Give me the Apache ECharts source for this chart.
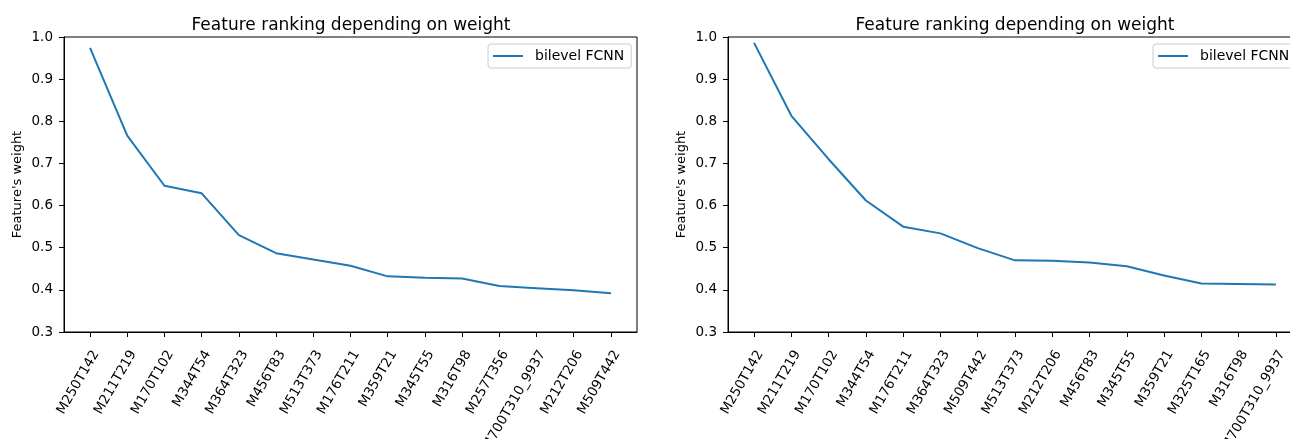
<!DOCTYPE html>
<html>
<head>
<meta charset="utf-8">
<script src="https://cdn.jsdelivr.net/npm/echarts@6/dist/echarts.min.js"></script>
<style>
html,body{margin:0;padding:0;background:#fff;}
#chart{width:1290px;height:439px;}
</style>
</head>
<body>
<div id="chart"></div>
<script>
const titleText = "Feature ranking depending on weight";
const yAxisName = "Feature's weight";
const seriesName = "bilevel FCNN";
const yTicks = [0.3, 0.4, 0.5, 0.6, 0.7, 0.8, 0.9, 1.0];

const leftCategories = ["M250T142","M211T219","M170T102","M344T54","M364T323","M456T83","M513T373","M176T211","M359T21","M345T55","M316T98","M257T356","M700T310_9937","M212T206","M509T442"];
const leftValues = [0.974, 0.766, 0.647, 0.629, 0.530, 0.487, 0.472, 0.457, 0.432, 0.429, 0.427, 0.409, 0.404, 0.399, 0.392];

const rightCategories = ["M250T142","M211T219","M170T102","M344T54","M176T211","M364T323","M509T442","M513T373","M212T206","M456T83","M345T55","M359T21","M325T165","M316T98","M700T310_9937"];
const rightValues = [0.986, 0.813, 0.710, 0.612, 0.550, 0.534, 0.499, 0.470, 0.469, 0.465, 0.456, 0.434, 0.415, 0.414, 0.413];

const FONT = "DejaVu Sans";
const BLUE = "#1f77b4";

function xAxisFor(gridIndex, cats) {
  const idx = cats.map((c, i) => i);
  return {
    type: 'value', gridIndex: gridIndex,
    min: -0.7, max: cats.length - 1 + 0.7,
    splitLine: {show: false},
    axisLine: {show: true, onZero: false, lineStyle: {color: '#000', width: 1}},
    axisTick: {show: true, length: 5, lineStyle: {color: '#000'}, customValues: idx},
    axisLabel: {
      show: true, rotate: 60, margin: 16, verticalAlign: 'top',
      fontFamily: FONT, fontSize: 13.5, color: '#000',
      customValues: idx,
      formatter: v => cats[Math.round(v)]
    }
  };
}
function yAxisFor(gridIndex) {
  return {
    type: 'value', gridIndex: gridIndex,
    min: yTicks[0], max: yTicks[yTicks.length - 1], interval: 0.1,
    name: yAxisName, nameLocation: 'middle', nameRotate: 90, nameGap: 40,
    nameTextStyle: {fontFamily: FONT, fontSize: 13, color: '#000'},
    splitLine: {show: false},
    axisLine: {show: true, onZero: false, lineStyle: {color: '#000', width: 1}},
    axisTick: {show: true, length: 5, lineStyle: {color: '#000'}},
    axisLabel: {fontFamily: FONT, fontSize: 13.5, color: '#000', margin: 11,
      padding: [3, 0, 0, 0],
      formatter: v => v.toFixed(1)}
  };
}
function legendAt(left) {
  return {
    data: [seriesName], left: left, top: 44,
    orient: 'horizontal',
    icon: 'rect', itemWidth: 30, itemHeight: 2,
    padding: [5, 7, 5, 5],
    borderColor: '#cccccc', borderWidth: 1, borderRadius: 3,
    backgroundColor: '#fff',
    textStyle: {fontFamily: FONT, fontSize: 14, color: '#000', padding: [0, 0, 0, 7]},
    selectedMode: false
  };
}
const gridBase = {top: 37, height: 295, show: true, borderColor: '#000', borderWidth: 1,
  backgroundColor: 'transparent', containLabel: false, outerBoundsMode: 'none'};

const chart = echarts.init(document.getElementById('chart'), null, {renderer: 'canvas'});
chart.setOption({
  backgroundColor: '#fff',
  animation: false,
  title: [
    {text: titleText, left: 351, top: 17, textAlign: 'center', padding: 0,
     textStyle: {fontFamily: FONT, fontSize: 17, fontWeight: 'normal', color: '#000'}},
    {text: titleText, left: 1015, top: 17, textAlign: 'center', padding: 0,
     textStyle: {fontFamily: FONT, fontSize: 17, fontWeight: 'normal', color: '#000'}}
  ],
  grid: [
    Object.assign({left: 64, width: 573}, gridBase),
    Object.assign({left: 728, width: 574}, gridBase)
  ],
  xAxis: [xAxisFor(0, leftCategories), xAxisFor(1, rightCategories)],
  yAxis: [yAxisFor(0), yAxisFor(1)],
  legend: [legendAt(488), legendAt(1153)],
  series: [
    {name: seriesName, type: 'line', xAxisIndex: 0, yAxisIndex: 0, symbol: 'none',
     lineStyle: {color: BLUE, width: 2}, itemStyle: {color: BLUE},
     data: leftValues.map((v, i) => [i, v])},
    {name: seriesName, type: 'line', xAxisIndex: 1, yAxisIndex: 1, symbol: 'none',
     lineStyle: {color: BLUE, width: 2}, itemStyle: {color: BLUE},
     data: rightValues.map((v, i) => [i, v])}
  ]
});
</script>
</body>
</html>
